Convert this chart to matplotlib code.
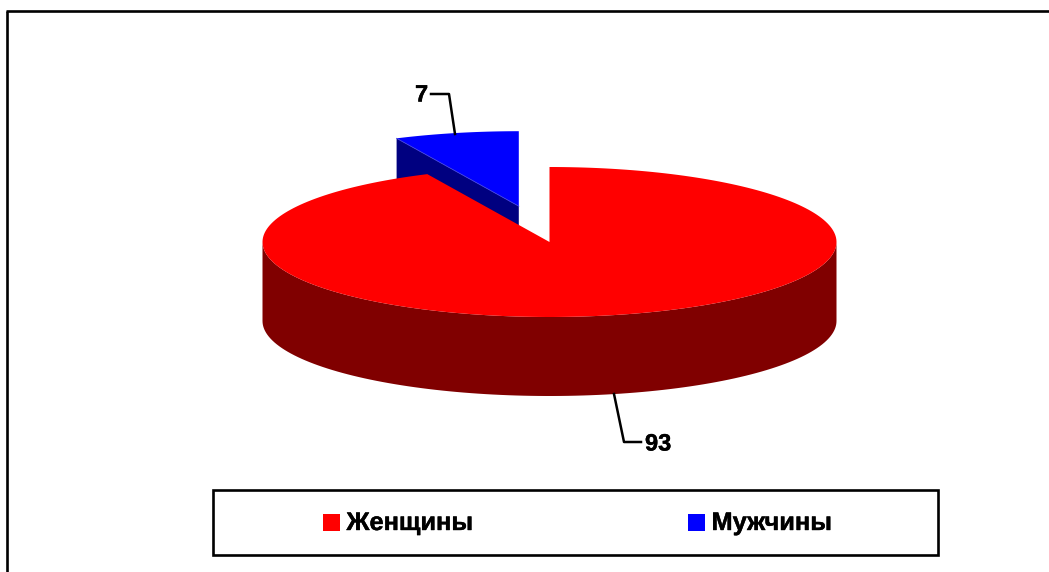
#!/usr/bin/env python3
import numpy as np
import matplotlib
matplotlib.use("Agg")
import matplotlib.pyplot as plt
import matplotlib.patheffects as pe
from matplotlib.patches import Polygon, Rectangle

# ── Data ─────────────────────────────────────────────────────────────
categories = ["Женщины", "Мужчины"]
values = [93, 7]
value_labels = ["93", "7"]

# ── Style ────────────────────────────────────────────────────────────
TOP_COLORS = ["#FF0000", "#0000FF"]
SIDE_COLORS = ["#800000", "#000080"]
CX, CY = 549.5, 242
RX, RY = 287, 75
DEPTH = 79
EXPLODE = (-30.7, -35.8)
HEAVY = [pe.withStroke(linewidth=0.3, foreground="black")]

plt.rcParams["font.family"] = ["Liberation Sans", "DejaVu Sans"]


def rim(t, dx=0, dy=0):
    # t runs clockwise from 12 o'clock
    return np.column_stack([CX + dx + RX * np.sin(t), CY + dy - RY * np.cos(t)])


fig = plt.figure(figsize=(10.49, 5.72), dpi=100)
ax = fig.add_axes([0, 0, 1, 1])
ax.set_xlim(0, 1049)
ax.set_ylim(572, 0)
ax.axis("off")

# outer frame runs off the right and bottom edges
ax.plot([7, 7], [575, 11], color="black", lw=1.9, solid_capstyle="butt")
ax.plot([6, 1052], [11, 11], color="black", lw=1.9, solid_capstyle="butt")

total = sum(values)
split = 2 * np.pi * values[0] / total

# ── Exploded small slice, goes under the big one ─────────────────────
dx, dy = EXPLODE
apex = np.array([CX + dx, CY + dy])
left = rim(np.array([split]), dx, dy)[0]
ax.add_patch(Polygon([left, apex, apex + [0, DEPTH], left + [0, DEPTH]],
                     closed=True, fc=SIDE_COLORS[1], ec="none", zorder=2))
arc = rim(np.linspace(split, 2 * np.pi, 60), dx, dy)
ax.add_patch(Polygon(np.vstack([apex, arc]), closed=True,
                     fc=TOP_COLORS[1], ec="none", zorder=3))
ax.plot([left[0], apex[0]], [left[1], apex[1]], color="#4040E0", lw=0.6, zorder=4)

# ── Big slice ────────────────────────────────────────────────────────
front = rim(np.linspace(np.pi / 2, 3 * np.pi / 2, 120))
ax.add_patch(Polygon(np.vstack([front, (front + [0, DEPTH])[::-1]]), closed=True,
                     fc=SIDE_COLORS[0], ec="none", zorder=5))
arc = rim(np.linspace(0, split, 240))
ax.add_patch(Polygon(np.vstack([[CX, CY], arc]), closed=True,
                     fc=TOP_COLORS[0], ec="none", zorder=6))

# ── Value labels with leaders ────────────────────────────────────────
ax.plot([614, 624, 641], [394, 442, 442], color="black", lw=1.8, zorder=7)
ax.text(645, 444, value_labels[0], fontsize=17, fontweight="bold",
        ha="left", va="center", zorder=8, path_effects=HEAVY)
ax.plot([431, 449, 455], [94, 94, 134], color="black", lw=1.8, zorder=7)
ax.text(415, 95, value_labels[1], fontsize=17, fontweight="bold",
        ha="left", va="center", zorder=8, path_effects=HEAVY)

# ── Legend ───────────────────────────────────────────────────────────
ax.add_patch(Rectangle((213, 490), 725, 65, fc="white", ec="black", lw=1.9, zorder=7))
for x0, name, col in zip([323, 688], categories, TOP_COLORS):
    ax.add_patch(Rectangle((x0, 514), 17, 17, fc=col, ec="none", zorder=8))
    ax.text(x0 + 23.5, 523, name, fontsize=18.3, fontweight="bold",
            ha="left", va="center", zorder=8, path_effects=HEAVY)

fig.savefig("out.png", dpi=100, facecolor="white")
plt.close(fig)
